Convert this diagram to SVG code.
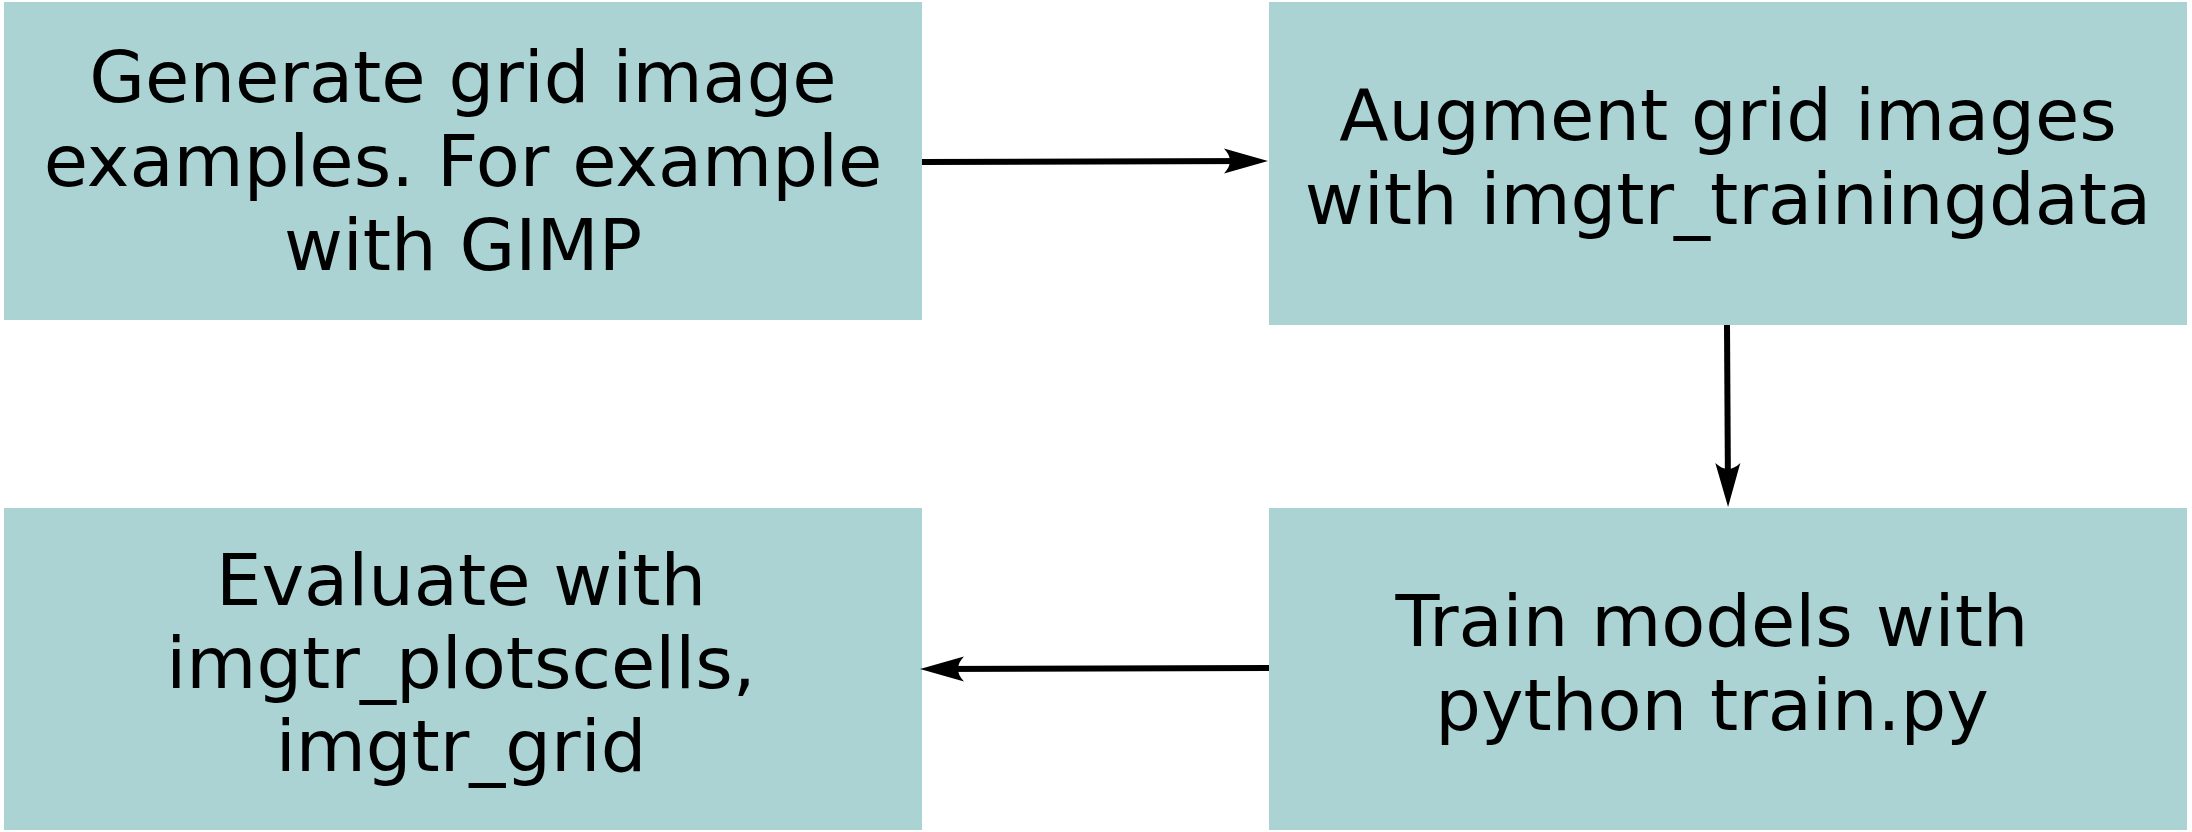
<svg xmlns="http://www.w3.org/2000/svg" width="2192" height="832" viewBox="0 0 2192 832">
  <style>
    .box { fill: #abd3d3; }
    .lbl { font-family: "DejaVu Sans", "Liberation Sans", sans-serif; font-size: 72px; fill: #000; text-anchor: middle; }
    .conn { stroke: #000; stroke-width: 6; fill: none; marker-end: url(#head); }
  </style>
  <defs>
    <marker id="head" markerUnits="userSpaceOnUse" orient="auto" refX="0" refY="0" markerWidth="60" markerHeight="40" viewBox="-40 -20 60 40" overflow="visible">
      <path d="M12,0 L-32,-12.5 C-24,-4 -24,4 -32,12.5 Z" fill="#000"/>
    </marker>
  </defs>
  <rect width="2192" height="832" fill="#fff"/>
  <g id="node-generate">
    <rect class="box" x="4" y="2" width="918" height="318"/>
    <text class="lbl" x="463" y="102">Generate grid image</text>
    <text class="lbl" x="463" y="186">examples. For example</text>
    <text class="lbl" x="463" y="270">with GIMP</text>
  </g>
  <g id="node-augment">
    <rect class="box" x="1269" y="2" width="918" height="323"/>
    <text class="lbl" x="1728" y="140">Augment grid images</text>
    <text class="lbl" x="1728" y="224">with imgtr_trainingdata</text>
  </g>
  <g id="node-evaluate">
    <rect class="box" x="4" y="508" width="918" height="322"/>
    <text class="lbl" x="461" y="605">Evaluate with</text>
    <text class="lbl" x="461" y="688">imgtr_plotscells,</text>
    <text class="lbl" x="461" y="771">imgtr_grid</text>
  </g>
  <g id="node-train">
    <rect class="box" x="1269" y="508" width="918" height="322"/>
    <text class="lbl" x="1712" y="646">Train models with</text>
    <text class="lbl" x="1712" y="730">python train.py</text>
  </g>
  <g id="connectors">
    <line class="conn" x1="922" y1="162" x2="1256" y2="161"/>
    <line class="conn" x1="1727" y1="325" x2="1728" y2="495"/>
    <line class="conn" x1="1269" y1="668" x2="932" y2="669"/>
  </g>
</svg>
